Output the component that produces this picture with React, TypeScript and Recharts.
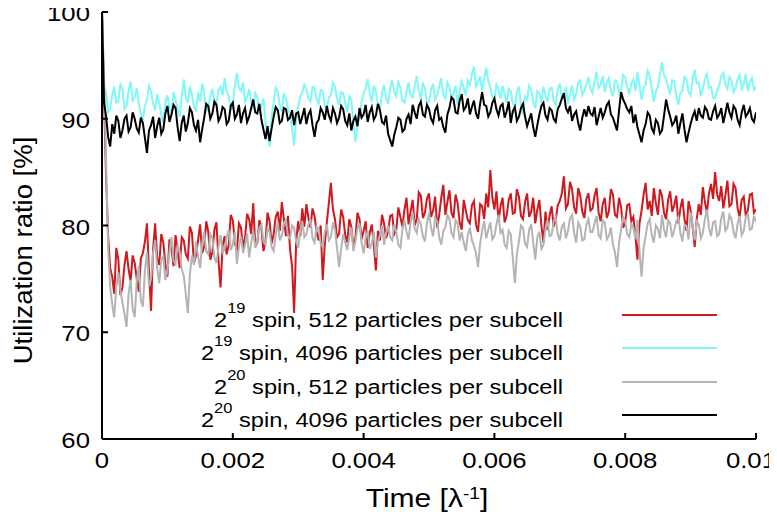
import React from 'react';
import { LineChart, Line, XAxis, YAxis, Legend } from 'recharts';

const FONT = '"Liberation Sans", Arial, Helvetica, sans-serif';

// time axis (λ^-1)
const T_END = 0.01;
const xTicks = [0, 0.002, 0.004, 0.006, 0.008, 0.01];
const xTickLabels = ['0', '0.002', '0.004', '0.006', '0.008', '0.01'];
const yTicks = [60, 70, 80, 90, 100];

// 2^19 spin, 512 particles per subcell
const spin19_512 = [
  100, 92.0, 84.5, 79.0, 76.0, 75.2, 73.6, 77.9, 76.8, 73.5, 74.2, 76.3, 77.6, 75.9, 74.8, 77.2, 76.5, 75.0, 73.8, 76.9,
  77.4, 78.5, 80.2, 75.6, 72.0, 77.8, 80.2, 77.0, 76.3, 79.2, 78.4, 76.4, 75.2, 78.7, 77.9, 76.2, 79.1, 77.6, 76.0, 78.9,
  78.6, 77.3, 76.9, 79.9, 79.3, 76.5, 77.2, 78.6, 80.1, 77.4, 78.0, 80.4, 79.4, 76.8, 77.5, 79.6, 80.3, 76.7, 74.2, 78.1,
  79.0, 77.3, 78.2, 81.0, 80.5, 78.4, 77.6, 80.2, 79.8, 77.9, 78.9, 81.1, 80.6, 79.2, 82.1, 78.0, 78.4, 80.5, 79.7, 77.6,
  78.5, 81.2, 80.4, 78.3, 79.2, 80.8, 81.3, 79.5, 82.2, 80.6, 79.0, 80.9, 77.8, 76.2, 71.8, 78.5, 80.4, 79.0, 81.6, 79.9,
  82.0, 80.7, 79.8, 81.6, 80.9, 79.4, 78.6, 80.0, 74.9, 78.2, 80.3, 82.1, 84.0, 81.5, 80.6, 78.9, 79.2, 81.5, 80.8, 79.1,
  78.4, 80.6, 79.9, 78.1, 78.8, 81.2, 80.6, 78.7, 79.5, 80.4, 77.9, 79.3, 80.1, 78.2, 75.8, 79.5, 78.6, 81.0, 80.2, 78.8,
  79.4, 80.9, 81.0, 79.2, 79.6, 81.7, 80.8, 79.9, 81.5, 82.6, 80.1, 81.3, 82.4, 80.0, 80.6, 83.1, 82.8, 80.7, 81.2, 82.5,
  83.0, 80.8, 81.4, 82.7, 79.8, 81.0, 82.6, 83.8, 81.0, 82.2, 83.3, 81.2, 80.7, 82.9, 82.1, 80.3, 79.6, 82.4, 81.4, 80.5,
  80.2, 81.9, 82.3, 80.1, 79.4, 82.0, 81.8, 80.6, 83.0, 81.7, 85.2, 82.6, 81.5, 83.2, 80.4, 81.8, 82.6, 80.3, 80.9, 82.4,
  83.0, 81.1, 81.2, 83.4, 82.7, 80.9, 80.6, 82.2, 83.0, 80.8, 81.3, 82.6, 80.2, 81.5, 82.4, 80.0, 78.4, 81.3, 79.6, 80.9,
  81.8, 79.9, 80.5, 81.9, 82.3, 83.0, 84.6, 81.6, 82.0, 84.1, 83.4, 81.7, 81.1, 83.5, 82.8, 81.3, 80.7, 82.5, 83.0, 81.4,
  81.6, 82.8, 83.5, 81.2, 80.4, 82.0, 82.6, 80.7, 81.3, 83.4, 82.9, 81.0, 80.8, 82.6, 81.7, 79.8, 80.3, 81.9, 82.0, 80.4,
  80.8, 79.0, 76.8, 80.2, 81.4, 82.9, 84.0, 81.5, 82.3, 80.9, 83.5, 82.1, 81.0, 83.4, 82.8, 81.2, 80.6, 82.4, 83.2, 81.3,
  81.9, 82.8, 80.2, 81.6, 82.5, 80.6, 79.5, 82.3, 81.4, 79.9, 78.0, 80.6, 82.0, 81.0, 83.6, 82.2, 81.2, 83.0, 83.9, 82.5,
  85.0, 82.9, 82.3, 83.7, 81.6, 82.8, 84.2, 81.8, 82.0, 83.9, 83.5, 81.6, 80.8, 82.4, 82.7, 80.9, 81.4, 82.9, 83.0, 81.2,
  81.5,
];

// 2^19 spin, 4096 particles per subcell
const spin19_4096 = [
  100, 93.0, 92.4, 90.6, 91.0, 92.2, 93.0, 91.5, 91.6, 93.2, 92.8, 90.9, 91.2, 92.6, 93.5, 91.7, 92.0, 92.9, 91.4, 90.5,
  89.9, 91.2, 91.8, 93.1, 92.6, 91.4, 90.8, 92.3, 91.5, 90.4, 89.6, 91.6, 92.2, 91.0, 90.6, 92.5, 91.8, 90.9, 90.2, 92.1,
  93.7, 92.0, 91.5, 93.0, 92.3, 91.1, 90.8, 92.5, 91.6, 93.3, 92.4, 90.7, 91.0, 92.1, 92.8, 91.6, 91.4, 92.7, 93.0, 92.2,
  93.8, 92.6, 92.1, 90.8, 91.2, 93.1, 94.3, 92.9, 92.6, 93.4, 91.6, 92.0, 92.8, 91.5, 90.9, 92.4, 92.0, 90.6, 91.2, 91.9,
  89.8, 88.6, 87.4, 90.2, 91.5, 92.9, 92.6, 91.2, 90.8, 92.4, 91.9, 90.9, 90.4, 89.1, 87.5, 90.0, 91.2, 92.0, 92.5, 93.2,
  92.8, 91.9, 91.6, 93.0, 92.9, 91.8, 91.4, 92.7, 92.6, 91.3, 90.9, 92.0, 92.2, 93.4, 93.0, 91.9, 91.3, 92.5, 92.4, 91.5,
  90.6, 92.1, 91.8, 89.6, 87.8, 89.4, 90.2, 91.6, 92.3, 92.9, 93.7, 92.4, 91.6, 93.1, 92.5, 91.4, 90.9, 92.4, 93.2, 92.0,
  91.4, 92.8, 93.6, 92.5, 92.1, 93.4, 92.9, 91.7, 91.5, 92.6, 93.4, 92.2, 92.0, 93.1, 94.0, 92.7, 91.8, 93.3, 92.9, 91.6,
  91.6, 92.7, 93.3, 91.8, 92.2, 93.0, 93.8, 92.3, 91.9, 93.4, 93.0, 91.9, 92.4, 93.1, 91.3, 92.6, 93.5, 92.9, 92.2, 93.6,
  93.2, 94.1, 94.9, 93.0, 93.4, 94.0, 92.6, 93.7, 94.8, 93.5, 93.0, 92.1, 91.6, 93.2, 92.8, 91.9, 93.1, 92.3, 91.5, 92.8,
  92.6, 91.4, 91.2, 92.5, 93.0, 91.3, 90.4, 92.1, 91.8, 93.1, 92.7, 91.6, 91.0, 92.6, 92.4, 91.5, 93.0, 92.2, 91.6, 92.8,
  92.9, 91.7, 91.3, 92.8, 93.3, 91.9, 92.0, 93.0, 91.4, 92.4, 93.1, 91.8, 92.3, 93.4, 93.6, 92.2, 92.6, 93.2, 93.9, 92.8,
  92.4, 93.5, 94.4, 92.9, 93.2, 94.0, 92.5, 93.4, 93.8, 92.6, 92.1, 93.6, 93.5, 92.4, 92.8, 94.1, 93.9, 93.0, 92.3, 93.3,
  93.7, 92.6, 94.4, 93.1, 91.8, 92.9, 93.2, 94.5, 94.0, 92.8, 91.6, 92.5, 93.0, 94.2, 95.3, 94.0, 93.8, 92.9, 92.4, 93.6,
  93.5, 92.2, 91.3, 92.4, 92.6, 93.9, 93.7, 92.5, 92.2, 93.8, 94.6, 93.3, 93.4, 92.1, 92.8, 93.7, 94.2, 92.9, 93.0, 92.0,
  91.9, 92.7, 93.1, 94.0, 94.3, 93.2, 92.8, 93.9, 93.6, 92.5, 92.9, 93.7, 94.1, 92.8, 93.2, 94.2, 92.6, 93.4, 93.8, 92.7,
  93.0,
];

// 2^20 spin, 512 particles per subcell
const spin20_512 = [
  100, 94.0, 86.0, 78.0, 74.2, 72.6, 71.4, 74.3, 75.6, 73.9, 72.8, 71.7, 70.5, 73.6, 74.9, 72.2, 71.4, 74.8, 76.2, 73.0,
  72.4, 75.8, 77.5, 74.3, 75.0, 77.4, 78.6, 76.0, 74.6, 76.8, 77.1, 74.9, 75.8, 77.5, 78.9, 76.7, 76.4, 78.2, 77.6, 75.9,
  75.3, 73.6, 71.8, 75.4, 77.2, 76.3, 78.5, 77.1, 76.0, 78.3, 79.4, 77.6, 77.3, 79.2, 78.8, 77.0, 76.5, 78.0, 79.1, 77.5,
  77.8, 78.9, 79.6, 77.7, 78.2, 79.4, 76.4, 78.0, 79.0, 77.4, 78.1, 79.3, 77.0, 78.4, 79.5, 77.9, 78.6, 79.8, 80.1, 78.5,
  78.2, 79.7, 79.4, 78.0, 77.6, 79.1, 80.3, 78.6, 79.1, 80.2, 80.5, 79.0, 78.8, 80.0, 79.8, 78.5, 77.9, 79.6, 80.4, 78.9,
  79.2, 80.1, 80.6, 78.8, 78.4, 79.9, 79.7, 78.3, 78.0, 79.4, 80.1, 78.6, 78.9, 80.3, 79.6, 77.9, 76.1, 77.8, 79.2, 78.4,
  77.7, 78.9, 79.8, 77.6, 78.5, 79.7, 80.2, 78.4, 77.4, 78.8, 79.5, 77.8, 78.3, 79.4, 77.0, 78.5, 79.1, 80.0, 78.2, 79.3,
  80.0, 78.9, 78.6, 80.1, 79.4, 78.2, 77.9, 79.6, 80.5, 79.4, 78.7, 80.3, 81.2, 79.7, 79.3, 80.6, 80.1, 79.0, 78.5, 80.2,
  81.2, 79.8, 79.0, 80.7, 80.4, 78.9, 78.2, 79.5, 79.8, 81.0, 80.6, 79.3, 78.9, 80.5, 80.2, 78.6, 79.4, 78.4, 77.6, 79.1,
  79.8, 78.6, 78.1, 77.4, 76.1, 78.3, 79.5, 80.4, 78.8, 79.6, 80.3, 78.7, 79.0, 80.1, 81.0, 79.3, 79.6, 78.2, 77.9, 79.5,
  79.2, 77.0, 74.6, 77.3, 78.5, 80.0, 79.8, 78.3, 78.0, 79.6, 80.1, 78.4, 76.8, 78.9, 79.4, 77.8, 78.2, 79.7, 80.5, 79.0,
  79.1, 80.4, 80.8, 79.2, 78.6, 79.9, 80.2, 78.8, 79.5, 80.7, 81.0, 79.3, 78.4, 80.3, 79.9, 78.6, 78.7, 80.1, 80.6, 79.4,
  79.4, 80.2, 80.9, 79.1, 78.8, 80.5, 80.3, 78.7, 79.0, 79.8, 78.2, 77.5, 76.1, 78.4, 79.6, 80.8, 80.4, 79.2, 78.9, 80.1,
  79.8, 78.7, 80.5, 77.6, 75.2, 77.9, 79.0, 80.2, 80.6, 79.1, 78.4, 80.0, 79.7, 78.8, 81.0, 79.6, 78.9, 80.5, 80.2, 78.9,
  79.6, 80.4, 80.8, 79.3, 78.5, 80.1, 79.9, 78.7, 81.2, 79.9, 78.6, 80.4, 80.1, 78.8, 79.3, 80.6, 81.5, 79.8, 79.0, 80.3,
  80.4, 79.0, 79.2, 80.7, 81.3, 79.5, 79.8, 81.0, 80.6, 79.4, 78.8, 80.2, 80.9, 79.1, 79.5, 80.8, 81.1, 79.6, 79.7, 80.9,
  80.3,
];

// 2^20 spin, 4096 particles per subcell
const spin20_4096 = [
  100, 91.5, 90.2, 88.3, 87.4, 89.5, 88.6, 90.3, 89.8, 88.2, 88.9, 90.0, 90.3, 88.8, 89.2, 90.6, 90.0, 89.1, 88.7, 90.1,
  89.6, 88.2, 86.8, 88.9, 89.4, 90.2, 88.2, 89.3, 90.1, 88.6, 89.0, 90.5, 91.2, 89.7, 90.4, 91.3, 91.0, 89.2, 87.9, 89.6,
  90.3, 88.8, 89.6, 91.0, 90.6, 89.4, 88.9, 89.9, 87.8, 89.0, 90.1, 91.4, 91.2, 90.0, 90.5, 91.6, 91.3, 89.8, 90.2, 91.1,
  90.9, 89.5, 89.8, 91.2, 91.5, 90.0, 90.4, 91.3, 89.6, 90.5, 91.0, 89.7, 90.2, 91.0, 91.8, 90.6, 90.5, 91.4, 89.9, 89.0,
  88.1, 89.3, 87.9, 89.1, 90.2, 91.1, 90.8, 89.6, 89.8, 91.0, 90.9, 89.9, 90.1, 90.8, 89.4, 90.5, 90.6, 89.5, 90.2, 91.0,
  89.5, 90.4, 90.8, 89.4, 88.3, 89.6, 89.9, 91.0, 90.6, 89.9, 91.2, 90.3, 89.8, 91.0, 90.5, 89.6, 90.1, 91.2, 90.9, 89.8,
  89.4, 90.5, 88.9, 89.8, 90.2, 89.3, 91.0, 90.1, 90.4, 91.3, 89.7, 90.6, 91.1, 89.9, 90.3, 91.4, 90.8, 89.7, 89.5, 90.3,
  88.6, 88.0, 87.4, 88.5, 89.2, 90.1, 89.9, 88.8, 89.0, 90.0, 90.4, 89.5, 91.3, 90.6, 90.0, 91.2, 91.6, 90.4, 90.2, 91.3,
  90.9, 90.0, 89.6, 90.8, 91.2, 89.9, 90.1, 89.2, 88.7, 90.4, 91.0, 92.0, 91.8, 90.6, 90.5, 91.7, 92.3, 90.8, 91.1, 91.9,
  90.4, 91.1, 91.7, 90.5, 90.0, 91.4, 92.5, 91.3, 91.2, 90.2, 90.6, 91.5, 91.9, 90.9, 90.3, 91.2, 91.4, 90.1, 90.7, 91.6,
  89.6, 90.7, 91.1, 89.8, 90.2, 91.0, 91.4, 90.2, 89.3, 89.9, 90.5, 89.2, 88.3, 89.4, 90.4, 91.2, 91.5, 90.3, 89.9, 91.0,
  90.8, 90.0, 89.7, 90.9, 91.3, 91.9, 92.4, 91.0, 90.6, 91.2, 89.8, 90.4, 90.7, 89.6, 88.9, 90.1, 90.9, 90.2, 91.2, 90.5,
  90.3, 91.1, 89.4, 90.2, 91.0, 90.1, 90.6, 91.3, 91.6, 90.4, 90.1, 89.5, 88.9, 90.8, 92.5, 91.8, 91.4, 90.9, 90.6, 91.2,
  89.6, 90.4, 89.2, 88.5, 87.8, 88.9, 89.5, 90.6, 90.3, 89.1, 88.7, 89.9, 89.6, 88.6, 88.9, 90.3, 91.8, 90.9, 90.2, 89.4,
  89.7, 90.3, 88.6, 89.6, 90.5, 89.0, 87.8, 88.7, 89.5, 90.2, 90.7, 89.8, 91.0, 90.3, 90.1, 91.1, 90.8, 90.0, 89.9, 90.7,
  91.2, 90.1, 90.4, 91.0, 89.6, 90.5, 91.5, 90.6, 90.1, 91.2, 90.9, 89.9, 89.4, 90.6, 91.3, 90.2, 90.5, 91.0, 90.0, 89.7,
  90.6,
];

const SERIES = [
  { key: 's19_512', base: '2', exp: '19', rest: ' spin, 512 particles per subcell', color: '#d0181f', values: spin19_512 },
  { key: 's19_4096', base: '2', exp: '19', rest: ' spin, 4096 particles per subcell', color: '#80f8f8', values: spin19_4096 },
  { key: 's20_512', base: '2', exp: '20', rest: ' spin, 512 particles per subcell', color: '#b4b4b4', values: spin20_512 },
  { key: 's20_4096', base: '2', exp: '20', rest: ' spin, 4096 particles per subcell', color: '#000000', values: spin20_4096 },
];

const N = spin19_512.length;
const data = spin19_512.map((_, i) => {
  const row: Record<string, number> = { t: (i * T_END) / (N - 1) };
  SERIES.forEach((s) => {
    row[s.key] = s.values[i];
  });
  return row;
});

const XTick = (props: any) => {
  const { x, y, payload } = props;
  const idx = xTicks.findIndex((v) => Math.abs(v - payload.value) < 1e-9);
  const label = idx >= 0 ? xTickLabels[idx] : String(payload.value);
  const last = idx === xTicks.length - 1;
  return (
    <text
      transform={`translate(${last ? x + 20 : x},${y + 29}) scale(1.12,1)`}
      textAnchor={last ? 'end' : 'middle'}
      fontSize={23}
      fontFamily={FONT}
      fill="#000"
    >
      {label}
    </text>
  );
};

const YTick = (props: any) => {
  const { x, y, payload } = props;
  return (
    <text
      transform={`translate(${x - 12},${y + 9}) scale(1.12,1)`}
      textAnchor="end"
      fontSize={23}
      fontFamily={FONT}
      fill="#000"
    >
      {payload.value}
    </text>
  );
};

const NoTick = () => <g />;

const XTitle = (props: any) => {
  const vb = props.viewBox || { x: 102, y: 439, width: 654, height: 80 };
  const cx = vb.x + vb.width / 2 - 2;
  const by = vb.y + 68;
  return (
    <text transform={`translate(${cx},${by}) scale(1.2,1)`} textAnchor="middle" fontSize={25} fontFamily={FONT} fill="#000">
      Time [λ
      <tspan dy={-8} fontSize={16}>-1</tspan>
      <tspan dy={8}>]</tspan>
    </text>
  );
};

const YTitle = (props: any) => {
  const vb = props.viewBox || { x: 0, y: 12, width: 102, height: 427 };
  const cy = vb.y + vb.height / 2 + 25;
  const bx = vb.x + 32;
  return (
    <text transform={`translate(${bx},${cy}) rotate(-90) scale(1.1,1)`} textAnchor="middle" fontSize={25} fontFamily={FONT} fill="#000">
      Utilization ratio [%]
    </text>
  );
};

const LEG_TOP = 315;
const LEG_GAP = 33.4;
const LEG_TEXT_RIGHT = 563;
const LEG_LINE_X = 622;
const LEG_LINE_W = 95;

const renderLegend = () => (
  <div style={{ position: 'relative', width: 0, height: 0 }}>
    {SERIES.map((s, k) => {
      const ly = LEG_TOP + k * LEG_GAP;
      return (
        <React.Fragment key={s.key}>
          <div
            style={{
              position: 'absolute',
              left: LEG_TEXT_RIGHT - 500,
              width: 500,
              top: ly - 5,
              height: 20,
              lineHeight: '20px',
              fontSize: 20,
              fontFamily: FONT,
              color: '#000',
              textAlign: 'right',
              whiteSpace: 'nowrap',
              transform: 'scaleX(1.18)',
              transformOrigin: 'right center',
            }}
          >
            {s.base}
            <span style={{ fontSize: 14, position: 'relative', top: -14 }}>{s.exp}</span>
            {s.rest}
          </div>
          <div
            style={{
              position: 'absolute',
              left: LEG_LINE_X,
              top: ly - 1,
              width: LEG_LINE_W,
              height: 2,
              background: s.color,
            }}
          />
        </React.Fragment>
      );
    })}
  </div>
);

export default function App() {
  return (
    <div style={{ width: 777, height: 519, marginLeft: -8, marginTop: -8 }}>
      <LineChart
        width={777}
        height={519}
        data={data}
        margin={{ top: 12, right: 21, bottom: 0, left: 0 }}
      >
        <XAxis
          dataKey="t"
          type="number"
          domain={[0, T_END]}
          ticks={xTicks}
          allowDataOverflow
          height={80}
          tickSize={-6}
          tickMargin={6}
          tick={<XTick />}
          axisLine={{ stroke: '#000', strokeWidth: 2 }}
          tickLine={{ stroke: '#000', strokeWidth: 2 }}
          label={{ content: <XTitle /> }}
        />
        <XAxis
          xAxisId="top"
          orientation="top"
          dataKey="t"
          type="number"
          domain={[0, T_END]}
          ticks={xTicks}
          allowDataOverflow
          height={0}
          tickSize={-6}
          tick={<NoTick />}
          axisLine={{ stroke: '#000', strokeWidth: 2 }}
          tickLine={{ stroke: '#000', strokeWidth: 2 }}
        />
        <YAxis
          type="number"
          domain={[60, 100]}
          ticks={yTicks}
          allowDataOverflow
          width={102}
          tickSize={-6}
          tickMargin={6}
          tick={<YTick />}
          axisLine={{ stroke: '#000', strokeWidth: 2 }}
          tickLine={{ stroke: '#000', strokeWidth: 2 }}
          label={{ content: <YTitle /> }}
        />
        <YAxis
          yAxisId="right"
          orientation="right"
          type="number"
          domain={[60, 100]}
          ticks={yTicks}
          allowDataOverflow
          width={0}
          tickSize={-6}
          tick={<NoTick />}
          axisLine={{ stroke: '#000', strokeWidth: 2 }}
          tickLine={{ stroke: '#000', strokeWidth: 2 }}
        />
        <Legend
          layout="vertical"
          align="center"
          verticalAlign="middle"
          wrapperStyle={{ left: 0, top: 0 }}
          content={renderLegend}
        />
        {SERIES.map((s) => (
          <Line
            key={s.key}
            dataKey={s.key}
            stroke={s.color}
            strokeWidth={2}
            dot={false}
            type="linear"
            isAnimationActive={false}
          />
        ))}
      </LineChart>
    </div>
  );
}
